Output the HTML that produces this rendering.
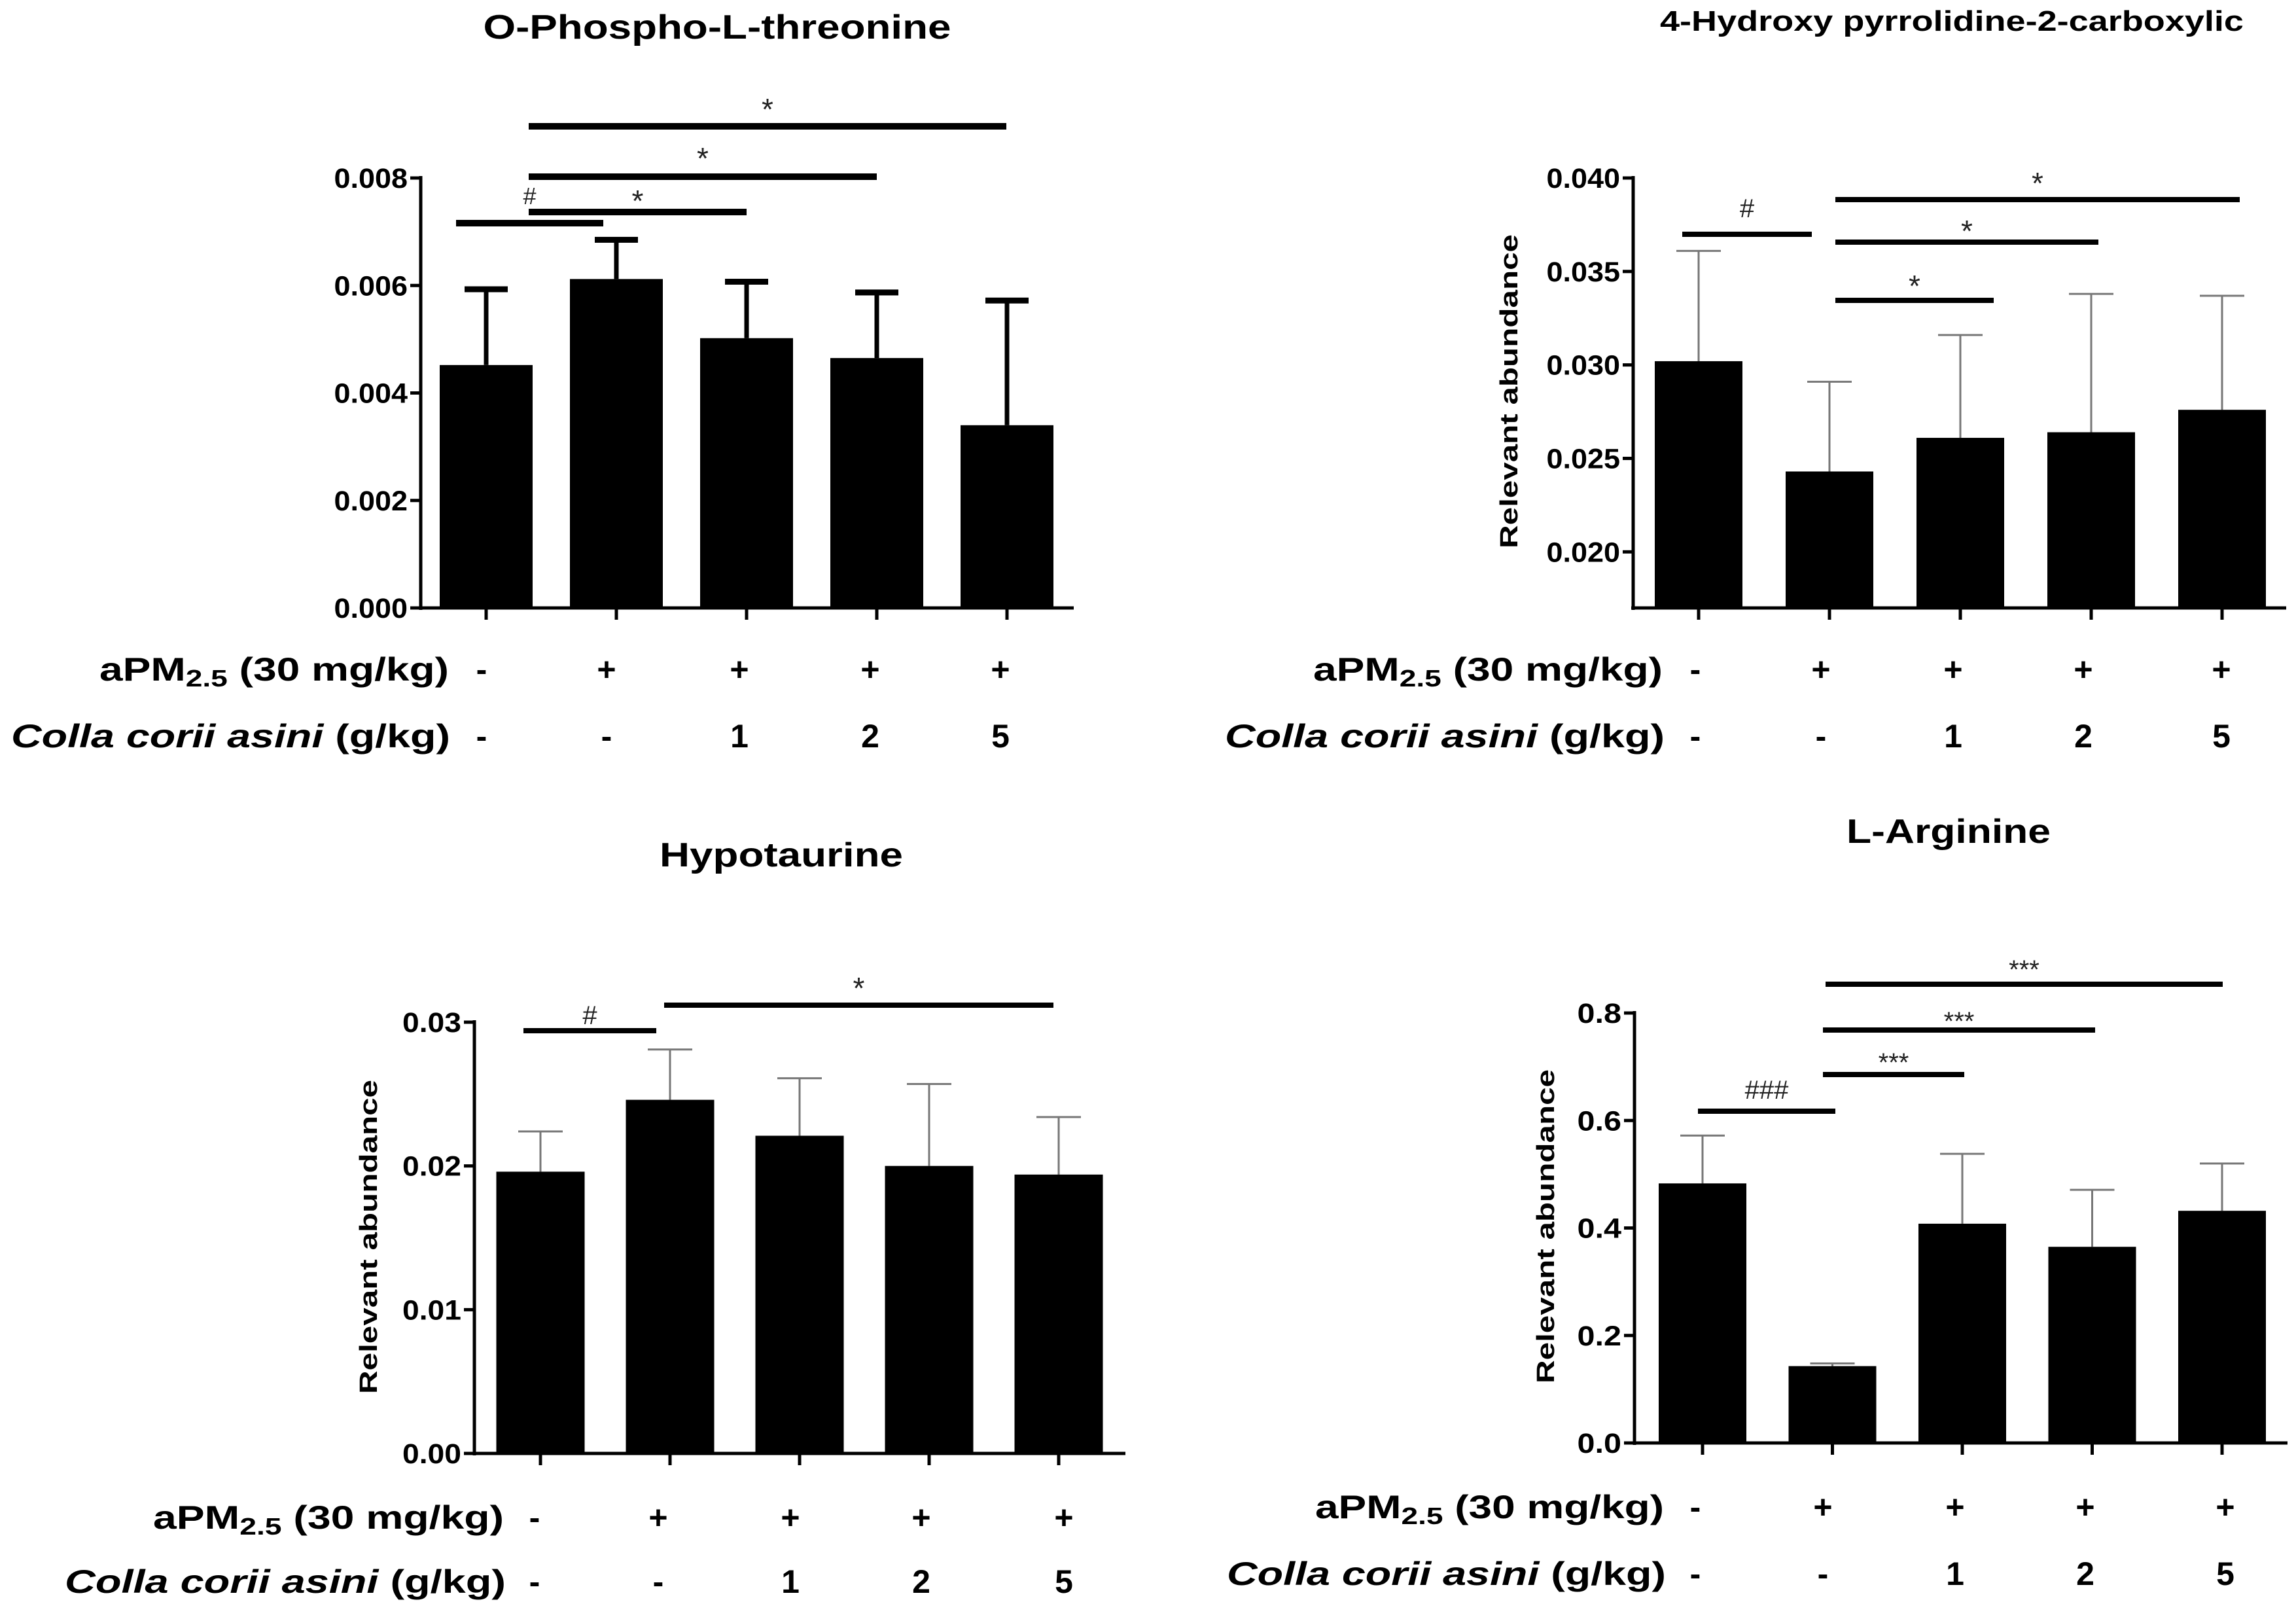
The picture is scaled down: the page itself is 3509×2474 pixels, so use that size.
<!DOCTYPE html>
<html><head><meta charset="utf-8">
<style>
html,body{margin:0;padding:0;background:#fff;}
svg{display:block;}
text{font-family:"Liberation Sans",Arial,sans-serif;}
</style></head>
<body>
<svg id="fig" width="3509" height="2474" viewBox="0 0 3509 2474" xmlns="http://www.w3.org/2000/svg"></svg>
<script>
// ---------- DATA ----------
const categories = ["ctrl","aPM","aPM+1","aPM+2","aPM+5"];
const p1Means = [0.00452, 0.00612, 0.00502, 0.00465, 0.00340];
const p1Upper = [0.00593, 0.00685, 0.00607, 0.00587, 0.00572];
const p1Ticks = [0, 0.002, 0.004, 0.006, 0.008];
const p1TickLabels = ["0.000","0.002","0.004","0.006","0.008"];

const p2Means = [0.0302, 0.0243, 0.0261, 0.0264, 0.0276];
const p2Upper = [0.0361, 0.0291, 0.0316, 0.0338, 0.0337];
const p2Ticks = [0.020, 0.025, 0.030, 0.035, 0.040];
const p2TickLabels = ["0.020","0.025","0.030","0.035","0.040"];

const p3Means = [0.0196, 0.0246, 0.0221, 0.0200, 0.0194];
const p3Upper = [0.0224, 0.0281, 0.0261, 0.0257, 0.0234];
const p3Ticks = [0, 0.01, 0.02, 0.03];
const p3TickLabels = ["0.00","0.01","0.02","0.03"];

const p4Means = [0.483, 0.143, 0.408, 0.365, 0.432];
const p4Upper = [0.572, 0.148, 0.538, 0.471, 0.520];
const p4Ticks = [0, 0.2, 0.4, 0.6, 0.8];
const p4TickLabels = ["0.0","0.2","0.4","0.6","0.8"];

const pmSigns = ["-","+","+","+","+"];
const doseSigns = ["-","-","1","2","5"];

const NS = "http://www.w3.org/2000/svg";
const svg = document.getElementById("fig");
function mk(tag, attrs, parent){
  const e = document.createElementNS(NS, tag);
  for (const k in attrs) e.setAttribute(k, attrs[k]);
  (parent||svg).appendChild(e);
  return e;
}

const panels = [
 {id:"p1", title:"O-Phospho-L-threonine", titleX:1096, titleY:59, titleLen:715, titleSize:52,
  means:p1Means, upper:p1Upper, ticks:p1Ticks, tickLabels:p1TickLabels,
  yMin:0, yMax:0.008, yBot:929, yTop:272, axisX:643, axisEnd:1641,
  x0:743, step:199, barW:142, errColor:"#000", errW:7, capW:66, capH:9,
  brackets:[[697,922,341,"#",299,36],[808,1141,324,"*",301,46],[808,1340,270,"*",236,46],[808,1538,193,"*",161,46]],
  brW:10, yTitle:null,
  rowY1:1023, rowY2:1125, rowL1:[152,686], rowL2:[17,688], signX:[736,927,1130,1330,1529]},
 {id:"p2", title:"4-Hydroxy pyrrolidine-2-carboxylic", titleX:2983, titleY:47, titleLen:892, titleSize:44,
  means:p2Means, upper:p2Upper, ticks:p2Ticks, tickLabels:p2TickLabels,
  yMin:0.017, yMax:0.040, yBot:929, yTop:272, axisX:2496, axisEnd:3494,
  x0:2596, step:200, barW:134, errColor:"#777", errW:3, capW:68, capH:3,
  brackets:[[2571,2769,358,"#",319,40],[2805,3047,459,"*",431,46],[2805,3207,370,"*",347,46],[2805,3423,305,"*",274,46]],
  brW:8, yTitle:[2305,598,480],
  rowY1:1023, rowY2:1125, rowL1:[2007,2541], rowL2:[1872,2544], signX:[2591,2783,2985,3184,3395]},
 {id:"p3", title:"Hypotaurine", titleX:1194, titleY:1324, titleLen:372, titleSize:52,
  means:p3Means, upper:p3Upper, ticks:p3Ticks, tickLabels:p3TickLabels,
  yMin:0, yMax:0.03, yBot:2221, yTop:1562, axisX:725, axisEnd:1720,
  x0:826, step:198, barW:135, errColor:"#777", errW:3, capW:68, capH:3,
  brackets:[[800,1003,1575,"#",1552,40],[1015,1610,1536,"*",1504,46]],
  brW:8, yTitle:[562,1890,480],
  rowY1:2319, rowY2:2417, rowL1:[234,770], rowL2:[99,773], signX:[817,1006,1208,1408,1626]},
 {id:"p4", title:"L-Arginine", titleX:2978, titleY:1288, titleLen:312, titleSize:52,
  means:p4Means, upper:p4Upper, ticks:p4Ticks, tickLabels:p4TickLabels,
  yMin:0, yMax:0.8, yBot:2205, yTop:1548, axisX:2498, axisEnd:3496,
  x0:2602, step:198.5, barW:134, errColor:"#777", errW:3, capW:68, capH:3,
  brackets:[[2595,2805,1698,"###",1666,40],[2786,3002,1642,"***",1615,40],[2786,3202,1574,"***",1552,40],[2790,3397,1504,"***",1473,40]],
  brW:8, yTitle:[2361,1874,480],
  rowY1:2303, rowY2:2405, rowL1:[2010,2543], rowL2:[1875,2546], signX:[2591,2786,2988,3187,3401]}
];

panels.forEach(p=>{
  const g = mk("g",{});
  
  
  const y = v => p.yBot - (v - p.yMin)/(p.yMax - p.yMin)*(p.yBot - p.yTop);
  const cx = i => p.x0 + i*p.step;

  const t = mk("text",{x:p.titleX, y:p.titleY, "text-anchor":"middle", "font-size":p.titleSize, "font-weight":"bold", textLength:p.titleLen, lengthAdjust:"spacingAndGlyphs"}, g);
  t.textContent = p.title;
  
  

  p.means.forEach((m,i)=>{
    const top = y(m);
    const ey = y(p.upper[i]);
    const el = mk("line",{x1:cx(i), x2:cx(i), y1:top, y2:ey, stroke:p.errColor, "stroke-width":p.errW}, g);
    
    
    const cap = mk("rect",{x:cx(i)-p.capW/2, y:ey-p.capH/2, width:p.capW, height:p.capH, fill:p.errColor}, g);
    
    
    const b = mk("rect",{x:cx(i)-p.barW/2, y:top, width:p.barW, height:p.yBot-top, fill:"#000"}, g);
    
    
    const tk = mk("line",{x1:cx(i), x2:cx(i), y1:p.yBot, y2:p.yBot+18, stroke:"#000", "stroke-width":5}, g);
    
    
  });

  const ya = mk("line",{x1:p.axisX, x2:p.axisX, y1:p.yTop-3, y2:p.yBot+3, stroke:"#000", "stroke-width":5}, g);
  
  
  const xa = mk("line",{x1:p.axisX-3, x2:p.axisEnd, y1:p.yBot, y2:p.yBot, stroke:"#000", "stroke-width":5}, g);
  
  
  p.ticks.forEach((v,i)=>{
    const ty = y(v);
    const tl = mk("line",{x1:p.axisX-16, x2:p.axisX, y1:ty, y2:ty, stroke:"#000", "stroke-width":5}, g);
    
    
    const tx = mk("text",{x:p.axisX-20, y:ty+15, "text-anchor":"end", "font-size":43, "font-weight":"bold", textLength:p.tickLabels[i].length*22.5, lengthAdjust:"spacingAndGlyphs"}, g);
    tx.textContent = p.tickLabels[i];
    
    
  });

  if (p.yTitle){
    const yt = mk("text",{x:0, y:0, "text-anchor":"middle", "font-size":38, "font-weight":"bold", textLength:p.yTitle[2], lengthAdjust:"spacingAndGlyphs", transform:`translate(${p.yTitle[0]+14},${p.yTitle[1]}) rotate(-90)`}, g);
    yt.textContent = "Relevant abundance";
    
    
  }

  p.brackets.forEach(br=>{
    const l = mk("rect",{x:br[0], y:br[2]-p.brW/2, width:br[1]-br[0], height:p.brW, fill:"#000"}, g);
    
    
    const s = mk("text",{x:(br[0]+br[1])/2, y:br[4]+ (br[3].indexOf("*")>=0 ? 22 : 13), "text-anchor":"middle", "font-size":br[5], fill:"#222", "font-family":"Liberation Serif, serif"}, g);
    s.textContent = br[3];
    
    
  });

  const r1 = mk("text",{x:p.rowL1[0], y:p.rowY1+17, "font-size":50, "font-weight":"bold", textLength:p.rowL1[1]-p.rowL1[0], lengthAdjust:"spacingAndGlyphs"}, g);
  r1.innerHTML = 'aPM<tspan font-size="36" dy="9">2.5</tspan><tspan dy="-9"> (30 mg/kg)</tspan>';
  
  
  const r2 = mk("text",{x:p.rowL2[0], y:p.rowY2+17, "font-size":50, "font-weight":"bold", textLength:p.rowL2[1]-p.rowL2[0], lengthAdjust:"spacingAndGlyphs"}, g);
  r2.innerHTML = '<tspan font-style="italic">Colla corii asini</tspan> (g/kg)';
  
  
  p.signX.forEach((sx,i)=>{
    const a = mk("text",{x:sx, y:p.rowY1+17, "text-anchor":"middle", "font-size":50, "font-weight":"bold"}, g);
    a.textContent = pmSigns[i];
    
    
    const d = mk("text",{x:sx, y:p.rowY2+17, "text-anchor":"middle", "font-size":50, "font-weight":"bold"}, g);
    d.textContent = doseSigns[i];
    
    
  });
});
</script>
</body></html>
